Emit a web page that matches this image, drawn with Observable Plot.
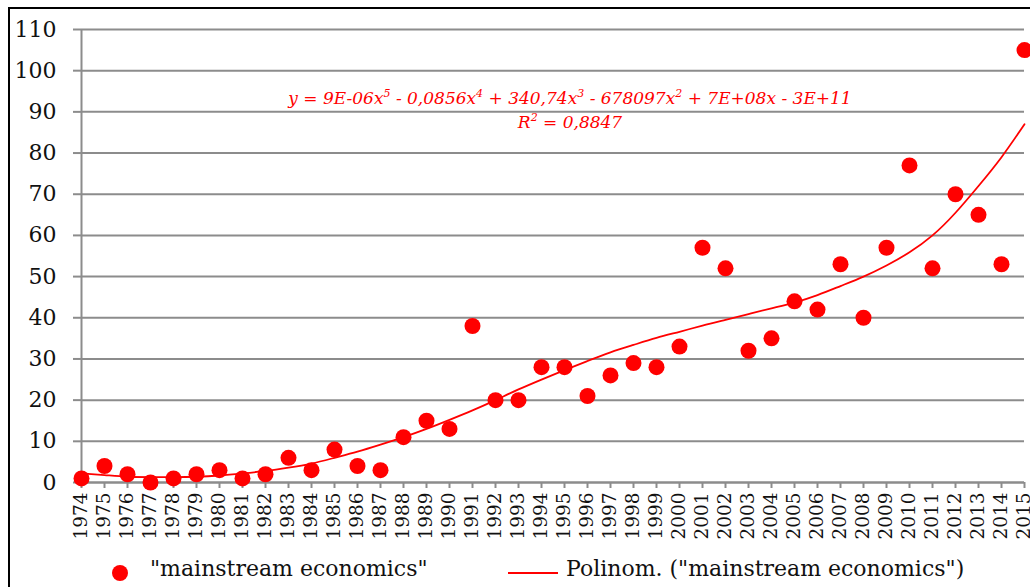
<!DOCTYPE html>
<html><head><meta charset="utf-8">
<script src="https://cdn.jsdelivr.net/npm/d3@7"></script>
<script src="https://cdn.jsdelivr.net/npm/@observablehq/plot@0.6"></script>
<style>
html,body{margin:0;padding:0;background:#fff;overflow:hidden;}
body{width:1030px;height:587px;position:relative;font-family:"DejaVu Serif",serif;}
#frame{position:absolute;left:8px;top:7px;width:1100px;height:700px;border-left:2px solid #000;border-top:2px solid #000;pointer-events:none;}
#eq{position:absolute;left:0;width:1140px;top:86px;text-align:center;color:#ff0000;font-style:italic;font-size:17px;line-height:24px;}
#eq sup{font-size:11px;vertical-align:7px;line-height:0;}
#legend{position:absolute;top:553px;left:0;width:1030px;height:34px;font-size:22px;color:#111;}
.lg{position:absolute;top:3px;white-space:nowrap;}
</style></head><body>
<div id="chart"></div>
<div id="eq">y = 9E-06x<sup>5</sup> - 0,0856x<sup>4</sup> + 340,74x<sup>3</sup> - 678097x<sup>2</sup> + 7E+08x - 3E+11<br>R<sup>2</sup> = 0,8847</div>
<div id="legend">
  <svg class="lg" style="left:108px;top:8px" width="24" height="24"><circle cx="12" cy="12" r="8" fill="#ff0000"/></svg>
  <span class="lg" style="left:150px">"mainstream economics"</span>
  <svg class="lg" style="left:506px;top:8px" width="54" height="24"><line x1="2" x2="52" y1="12" y2="12" stroke="#ff0000" stroke-width="2"/></svg>
  <span class="lg" style="left:566px">Polinom. ("mainstream economics")</span>
</div>
<div id="frame"></div>
<script>
const years = d3.range(1974, 2016);
const values = [1,4,2,0,1,2,3,1,2,6,3,8,4,3,11,15,13,38,20,20,28,28,21,26,29,28,33,57,52,32,35,44,42,53,40,57,77,52,70,65,53,105];
const trend = [2.2,1.8,1.4,1.3,1.3,1.4,1.7,2.2,2.8,3.6,4.6,6.0,7.5,9.2,11.0,13.0,15.2,17.5,20.0,22.6,25.0,27.3,29.5,31.6,33.4,35.1,36.6,38.1,39.5,40.9,42.3,43.7,45.5,47.7,50.0,52.7,55.9,60.0,65.5,72.0,79.0,87.0];
const yTicks = d3.range(0, 111, 10);

const pts = years.map((y, i) => ({year: y, v: values[i]}));
const tr = years.map((y, i) => ({year: y, t: trend[i]}));

const red = "#ff0000";
const grid = "#8c8c8c";

const chart = Plot.plot({
  width: 1030,
  height: 550,
  marginLeft: 81,
  marginRight: 6,
  marginTop: 29,
  marginBottom: 68,
  style: {fontFamily: "DejaVu Serif, serif", background: "transparent", color: "#111"},
  x: {domain: [1974, 2015]},
  y: {domain: [0, 110]},
  marks: [
    Plot.gridY(yTicks, {stroke: grid, strokeOpacity: 1, strokeWidth: 2}),
    Plot.axisY(yTicks, {tickSize: 8, tickPadding: 17, stroke: grid, strokeWidth: 2, fontSize: 22, label: null, tickFormat: d => d}),
    Plot.ruleX([1974], {y1: 0, y2: 110, stroke: grid, strokeWidth: 2}),
    Plot.ruleY([0], {stroke: grid, strokeWidth: 2}),
    Plot.axisX(years, {tickSize: 6, tickPadding: 4, stroke: grid, strokeWidth: 2, fontSize: 18.5, tickRotate: -90, label: null, tickFormat: d => String(d)}),
    Plot.line(tr, {x: "year", y: "t", stroke: red, strokeWidth: 1.8, curve: "natural"}),
    Plot.dot(pts, {x: "year", y: "v", r: 8, fill: red, stroke: "none"})
  ]
});
chart.style.overflow = "visible";
document.getElementById("chart").appendChild(chart);
</script>
</body></html>
